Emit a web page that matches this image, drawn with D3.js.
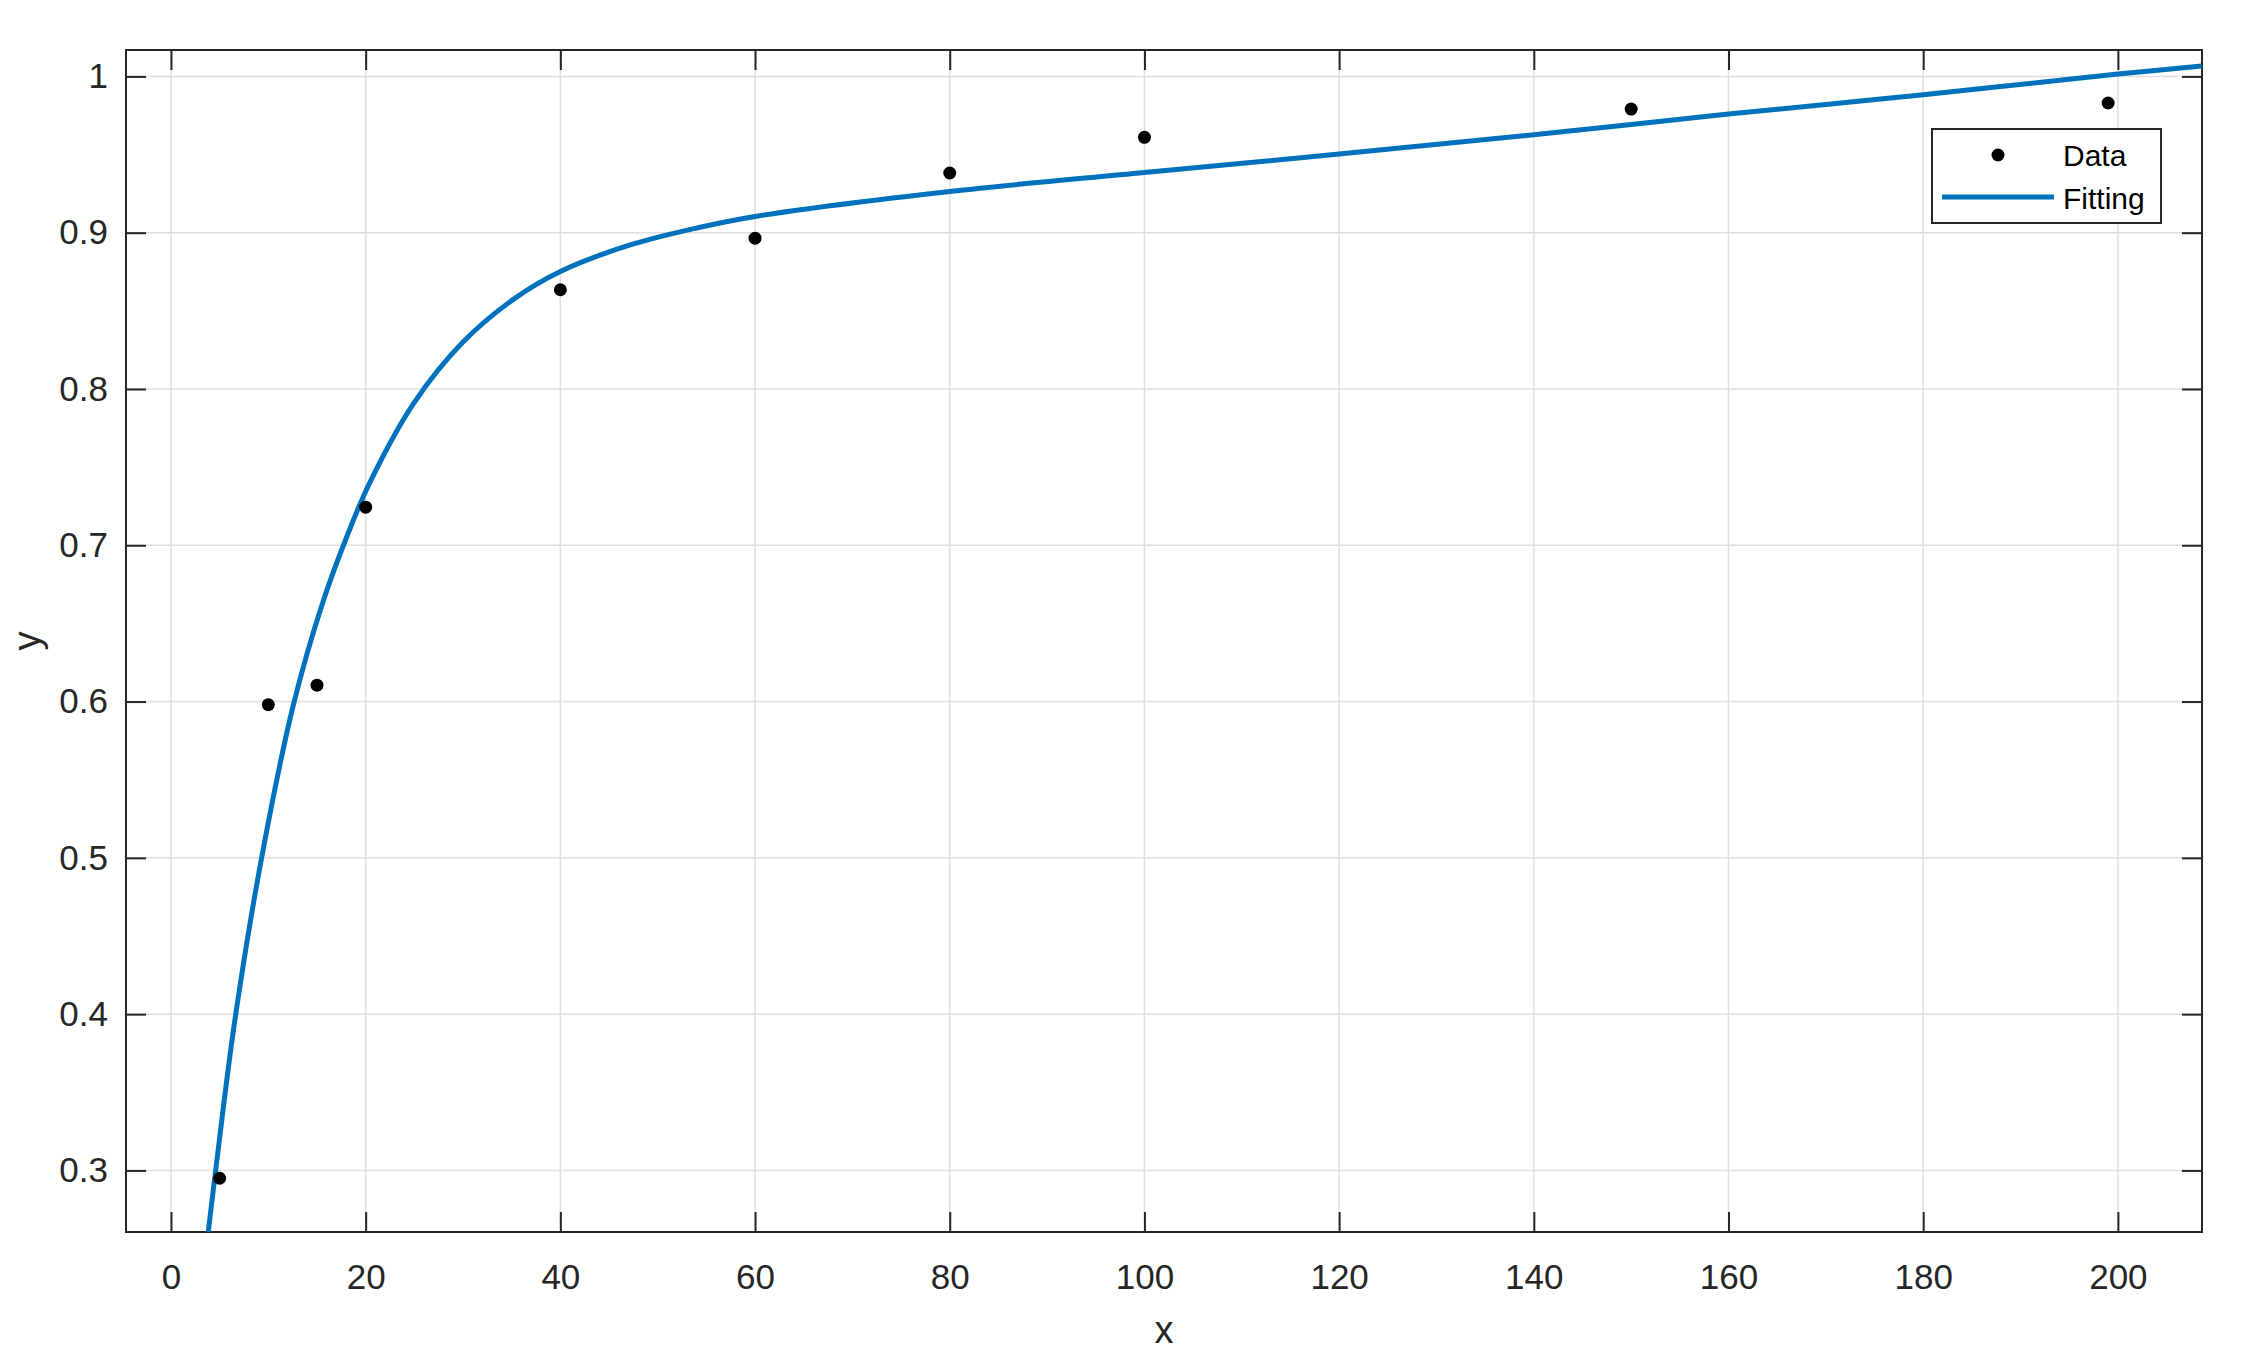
<!DOCTYPE html>
<html>
<head>
<meta charset="utf-8">
<script src="https://cdn.jsdelivr.net/npm/d3@7"></script>
<style>
  html, body { margin: 0; padding: 0; background: #fff; }
  svg { display: block; font-family: "Liberation Sans", Arial, sans-serif; }
</style>
</head>
<body>
<div id="chart"></div>
<script>
// measured samples
const dataX = [5, 10, 15, 20, 40, 60, 80, 100, 150, 199];
const dataY = [0.295, 0.598, 0.6105, 0.7244, 0.8635, 0.8965, 0.9382, 0.961, 0.9791, 0.983];

// fitted curve
const fitX = [3.83, 4.6, 6.57, 9.31, 12.6, 15.65, 18.0, 20.4, 24.9, 30.0, 35.2, 40.0, 47.1, 54.0, 60.0, 80, 100, 120, 140, 160, 180, 200, 208.6];
const fitY = [0.2606, 0.3005, 0.3965, 0.500, 0.5985, 0.6645, 0.7045, 0.7398, 0.7905, 0.8300, 0.8575, 0.8752, 0.8920, 0.903, 0.9104, 0.9264, 0.9385, 0.9503, 0.9627, 0.9759, 0.9883, 1.0015, 1.0067];

const xTicks = [0, 20, 40, 60, 80, 100, 120, 140, 160, 180, 200];
const yTicks = [0.3, 0.4, 0.5, 0.6, 0.7, 0.8, 0.9, 1];
const legendLabels = ["Data", "Fitting"];

const W = 2243, H = 1363;
const plotLeft = 126, plotRight = 2202, plotTop = 50, plotBottom = 1232;
const axisColor = "#262626";
const gridColor = "#dfdfdf";
const lineColor = "#0072BD";

let svg = d3.select("#chart").append("svg")
  .attr("width", W)
  .attr("height", H);

let xScale = d3.scaleLinear().domain([-4.62, 208.64]).range([plotLeft, plotRight]);
let yScale = d3.scaleLinear().domain([0.2606, 1.0169]).range([plotBottom, plotTop]);

svg.append("defs").append("clipPath")
  .attr("id", "plotClip")
  .append("rect")
  .attr("x", plotLeft)
  .attr("y", plotTop)
  .attr("width", plotRight - plotLeft)
  .attr("height", plotBottom - plotTop);

// Grid
let grid = svg.append("g");
grid.selectAll("line.gx")
  .data(xTicks)
  .enter()
  .append("line")
  .attr("class", "gx")
  .attr("x1", function(d) { return xScale(d); })
  .attr("x2", function(d) { return xScale(d); })
  .attr("y1", plotTop)
  .attr("y2", plotBottom)
  .attr("stroke", gridColor)
  .attr("stroke-width", 1.5);
grid.selectAll("line.gy")
  .data(yTicks)
  .enter()
  .append("line")
  .attr("class", "gy")
  .attr("x1", plotLeft)
  .attr("x2", plotRight)
  .attr("y1", function(d) { return yScale(d); })
  .attr("y2", function(d) { return yScale(d); })
  .attr("stroke", gridColor)
  .attr("stroke-width", 1.5);

// Axes with inward ticks on all four sides
const tickLen = 20;
let xAxisBottom = d3.axisBottom(xScale).tickValues(xTicks).tickSize(-tickLen).tickPadding(tickLen + 12).tickFormat(d3.format("d"));
let xAxisTop = d3.axisTop(xScale).tickValues(xTicks).tickSize(-tickLen).tickFormat("");
let yAxisLeft = d3.axisLeft(yScale).tickValues(yTicks).tickSize(-tickLen).tickPadding(18).tickFormat(function(d) { return d === 1 ? "1" : d3.format(".1f")(d); });
let yAxisRight = d3.axisRight(yScale).tickValues(yTicks).tickSize(-tickLen).tickFormat("");

function styleAxis(g) {
  g.selectAll(".domain").remove();
  g.selectAll(".tick line").attr("stroke", axisColor).attr("stroke-width", 2);
  g.selectAll(".tick text")
    .attr("fill", axisColor)
    .attr("font-size", 35)
    .attr("font-family", "Liberation Sans, Arial, sans-serif");
}

svg.append("g").attr("transform", "translate(0," + plotBottom + ")").call(xAxisBottom).call(styleAxis)
  .selectAll(".tick text").attr("dy", "0.71em");
svg.append("g").attr("transform", "translate(0," + plotTop + ")").call(xAxisTop).call(styleAxis);
svg.append("g").attr("transform", "translate(" + plotLeft + ",0)").call(yAxisLeft).call(styleAxis);
svg.append("g").attr("transform", "translate(" + plotRight + ",0)").call(yAxisRight).call(styleAxis);

// Frame
svg.append("rect")
  .attr("x", plotLeft)
  .attr("y", plotTop)
  .attr("width", plotRight - plotLeft)
  .attr("height", plotBottom - plotTop)
  .attr("fill", "none")
  .attr("stroke", axisColor)
  .attr("stroke-width", 2);

// Fitted curve
let fitPoints = fitX.map(function(x, i) { return [x, fitY[i]]; });
let line = d3.line()
  .x(function(d) { return xScale(d[0]); })
  .y(function(d) { return yScale(d[1]); })
  .curve(d3.curveCatmullRom.alpha(0.5));

svg.append("path")
  .datum(fitPoints)
  .attr("clip-path", "url(#plotClip)")
  .attr("d", line)
  .attr("fill", "none")
  .attr("stroke", lineColor)
  .attr("stroke-width", 5)
  .attr("stroke-linejoin", "round");

// Data points
svg.append("g")
  .selectAll("circle")
  .data(dataX.map(function(x, i) { return [x, dataY[i]]; }))
  .enter()
  .append("circle")
  .attr("cx", function(d) { return xScale(d[0]); })
  .attr("cy", function(d) { return yScale(d[1]); })
  .attr("r", 6.5)
  .attr("fill", "#000");

// Axis labels
svg.append("text")
  .text("x")
  .attr("x", (plotLeft + plotRight) / 2)
  .attr("y", 1343)
  .attr("text-anchor", "middle")
  .attr("font-size", 38)
  .attr("fill", axisColor);

svg.append("text")
  .text("y")
  .attr("transform", "translate(40," + (plotTop + plotBottom) / 2 + ") rotate(-90)")
  .attr("text-anchor", "middle")
  .attr("font-size", 38)
  .attr("fill", axisColor);

// Legend
let legend = svg.append("g");
legend.append("rect")
  .attr("x", 1932)
  .attr("y", 129)
  .attr("width", 229)
  .attr("height", 94)
  .attr("fill", "#fff")
  .attr("stroke", axisColor)
  .attr("stroke-width", 2);
legend.append("circle")
  .attr("cx", 1998)
  .attr("cy", 155)
  .attr("r", 6.5)
  .attr("fill", "#000");
legend.append("line")
  .attr("x1", 1942)
  .attr("x2", 2054)
  .attr("y1", 197)
  .attr("y2", 197)
  .attr("stroke", lineColor)
  .attr("stroke-width", 5);
legend.selectAll("text")
  .data(legendLabels)
  .enter()
  .append("text")
  .text(function(d) { return d; })
  .attr("x", 2063)
  .attr("y", function(d, i) { return 166 + i * 43; })
  .attr("font-size", 30)
  .attr("fill", "#000");
</script>
</body>
</html>
